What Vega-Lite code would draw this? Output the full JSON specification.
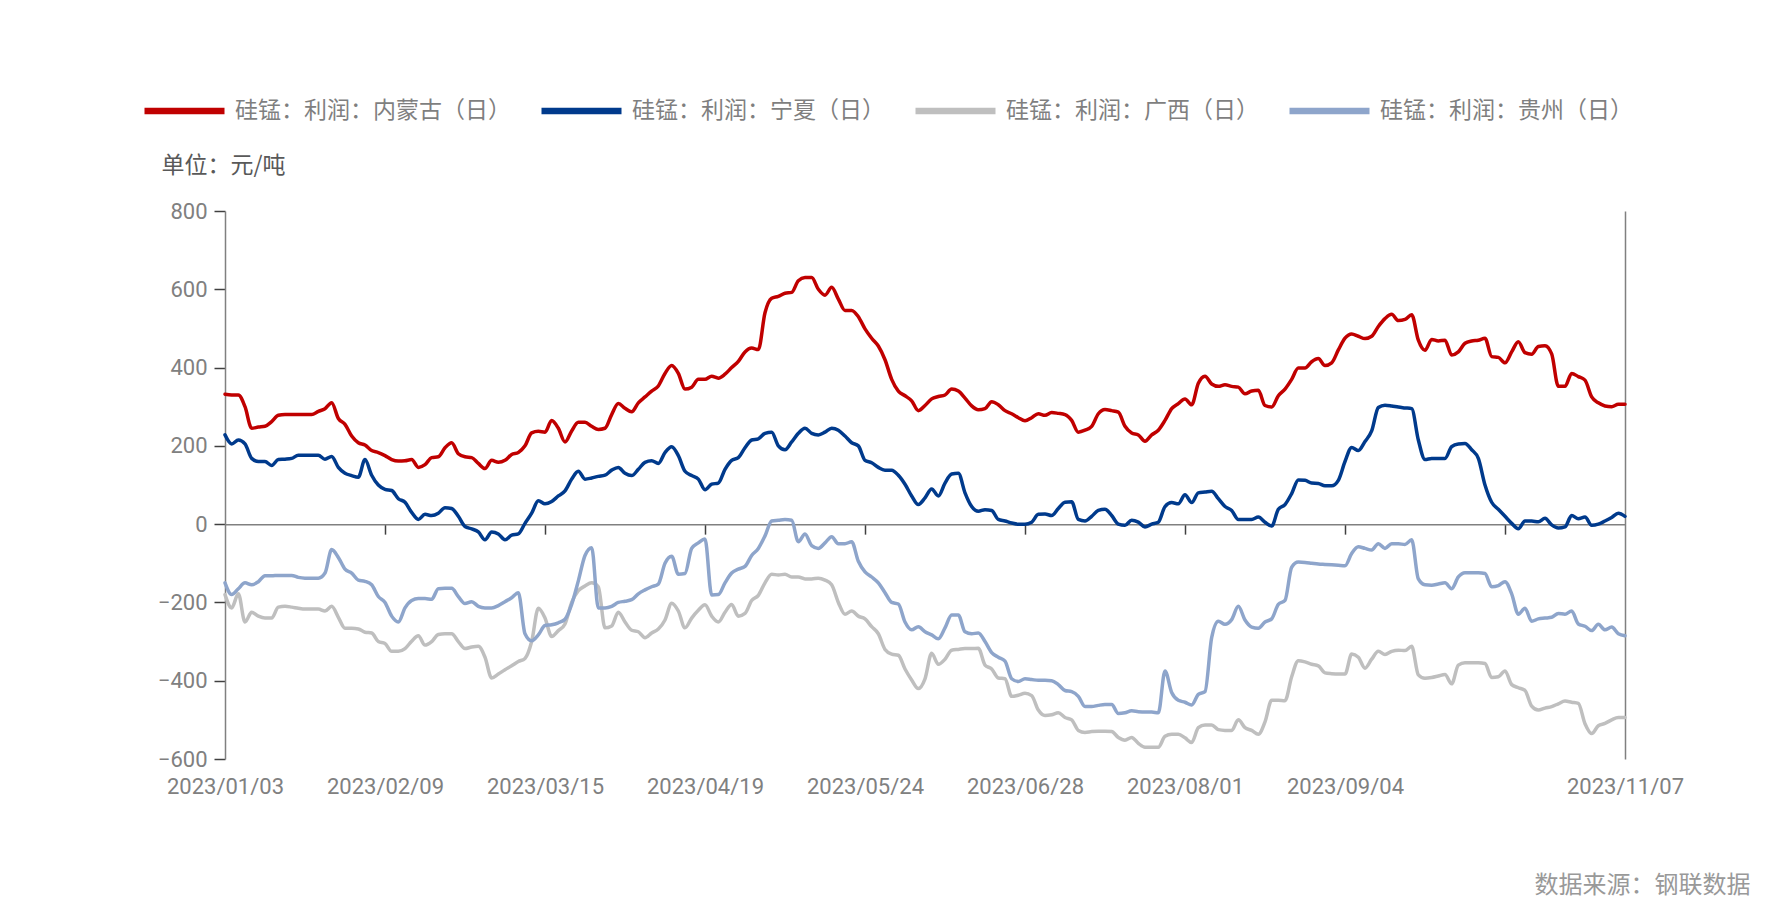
{
  "$schema": "https://vega.github.io/schema/vega-lite/v6.json",
  "description": "Silicomanganese profit by region, daily, 2023",
  "width": 1400,
  "height": 548,
  "padding": {"left": 225, "top": 211, "right": 163, "bottom": 159},
  "autosize": {"type": "none"},
  "background": "white",
  "config": {"view": {"stroke": null}, "axis": {"grid": false}},
  "data": {
    "values": [
      {"d": "2023/01/03", "nm": 332, "nx": 228, "gx": -180, "gz": -150},
      {"d": "2023/01/04", "nm": 330, "nx": 205, "gx": -214, "gz": -180},
      {"d": "2023/01/05", "nm": 330, "nx": 215, "gx": -178, "gz": -165},
      {"d": "2023/01/06", "nm": 300, "nx": 205, "gx": -250, "gz": -150},
      {"d": "2023/01/09", "nm": 245, "nx": 168, "gx": -225, "gz": -155},
      {"d": "2023/01/10", "nm": 248, "nx": 160, "gx": -235, "gz": -147},
      {"d": "2023/01/11", "nm": 250, "nx": 160, "gx": -240, "gz": -132},
      {"d": "2023/01/12", "nm": 262, "nx": 150, "gx": -240, "gz": -132},
      {"d": "2023/01/13", "nm": 278, "nx": 165, "gx": -212, "gz": -131},
      {"d": "2023/01/16", "nm": 280, "nx": 166, "gx": -210, "gz": -131},
      {"d": "2023/01/17", "nm": 280, "nx": 168, "gx": -212, "gz": -131},
      {"d": "2023/01/18", "nm": 280, "nx": 176, "gx": -215, "gz": -136},
      {"d": "2023/01/19", "nm": 280, "nx": 176, "gx": -217, "gz": -138},
      {"d": "2023/01/20", "nm": 280, "nx": 176, "gx": -217, "gz": -138},
      {"d": "2023/01/28", "nm": 288, "nx": 176, "gx": -217, "gz": -138},
      {"d": "2023/01/29", "nm": 295, "nx": 166, "gx": -222, "gz": -125},
      {"d": "2023/01/30", "nm": 310, "nx": 173, "gx": -210, "gz": -65},
      {"d": "2023/01/31", "nm": 270, "nx": 145, "gx": -238, "gz": -85},
      {"d": "2023/02/01", "nm": 255, "nx": 130, "gx": -266, "gz": -115},
      {"d": "2023/02/02", "nm": 225, "nx": 124, "gx": -266, "gz": -125},
      {"d": "2023/02/03", "nm": 208, "nx": 120, "gx": -268, "gz": -143},
      {"d": "2023/02/06", "nm": 202, "nx": 165, "gx": -276, "gz": -146},
      {"d": "2023/02/07", "nm": 188, "nx": 125, "gx": -278, "gz": -155},
      {"d": "2023/02/08", "nm": 183, "nx": 100, "gx": -300, "gz": -185},
      {"d": "2023/02/09", "nm": 175, "nx": 89, "gx": -305, "gz": -200},
      {"d": "2023/02/10", "nm": 165, "nx": 86, "gx": -325, "gz": -235},
      {"d": "2023/02/13", "nm": 161, "nx": 65, "gx": -325, "gz": -250},
      {"d": "2023/02/14", "nm": 162, "nx": 56, "gx": -318, "gz": -214},
      {"d": "2023/02/15", "nm": 165, "nx": 30, "gx": -299, "gz": -195},
      {"d": "2023/02/16", "nm": 145, "nx": 12, "gx": -285, "gz": -190},
      {"d": "2023/02/17", "nm": 152, "nx": 25, "gx": -309, "gz": -190},
      {"d": "2023/02/20", "nm": 170, "nx": 22, "gx": -300, "gz": -192},
      {"d": "2023/02/21", "nm": 172, "nx": 28, "gx": -282, "gz": -165},
      {"d": "2023/02/22", "nm": 195, "nx": 42, "gx": -280, "gz": -164},
      {"d": "2023/02/23", "nm": 208, "nx": 40, "gx": -280, "gz": -164},
      {"d": "2023/02/24", "nm": 180, "nx": 20, "gx": -300, "gz": -185},
      {"d": "2023/02/27", "nm": 172, "nx": -6, "gx": -318, "gz": -203},
      {"d": "2023/02/28", "nm": 170, "nx": -12, "gx": -314, "gz": -198},
      {"d": "2023/03/01", "nm": 155, "nx": -20, "gx": -312, "gz": -210},
      {"d": "2023/03/02", "nm": 142, "nx": -40, "gx": -340, "gz": -214},
      {"d": "2023/03/03", "nm": 163, "nx": -20, "gx": -393, "gz": -214},
      {"d": "2023/03/06", "nm": 158, "nx": -25, "gx": -383, "gz": -208},
      {"d": "2023/03/07", "nm": 163, "nx": -40, "gx": -372, "gz": -198},
      {"d": "2023/03/08", "nm": 178, "nx": -28, "gx": -362, "gz": -188},
      {"d": "2023/03/09", "nm": 183, "nx": -25, "gx": -351, "gz": -175},
      {"d": "2023/03/10", "nm": 200, "nx": 2, "gx": -343, "gz": -280},
      {"d": "2023/03/13", "nm": 233, "nx": 28, "gx": -300, "gz": -298},
      {"d": "2023/03/14", "nm": 237, "nx": 60, "gx": -215, "gz": -283},
      {"d": "2023/03/15", "nm": 235, "nx": 52, "gx": -240, "gz": -259},
      {"d": "2023/03/16", "nm": 265, "nx": 58, "gx": -287, "gz": -257},
      {"d": "2023/03/17", "nm": 245, "nx": 72, "gx": -272, "gz": -252},
      {"d": "2023/03/20", "nm": 210, "nx": 85, "gx": -255, "gz": -243},
      {"d": "2023/03/21", "nm": 238, "nx": 115, "gx": -200, "gz": -205},
      {"d": "2023/03/22", "nm": 260, "nx": 135, "gx": -170, "gz": -145},
      {"d": "2023/03/23", "nm": 260, "nx": 115, "gx": -158, "gz": -80},
      {"d": "2023/03/24", "nm": 250, "nx": 118, "gx": -150, "gz": -60},
      {"d": "2023/03/27", "nm": 242, "nx": 122, "gx": -160, "gz": -214},
      {"d": "2023/03/28", "nm": 245, "nx": 125, "gx": -265, "gz": -214},
      {"d": "2023/03/29", "nm": 280, "nx": 138, "gx": -260, "gz": -210},
      {"d": "2023/03/30", "nm": 308, "nx": 145, "gx": -225, "gz": -200},
      {"d": "2023/03/31", "nm": 296, "nx": 130, "gx": -250, "gz": -197},
      {"d": "2023/04/03", "nm": 287, "nx": 124, "gx": -271, "gz": -193},
      {"d": "2023/04/04", "nm": 310, "nx": 140, "gx": -275, "gz": -178},
      {"d": "2023/04/06", "nm": 325, "nx": 158, "gx": -290, "gz": -168},
      {"d": "2023/04/07", "nm": 340, "nx": 162, "gx": -278, "gz": -160},
      {"d": "2023/04/10", "nm": 353, "nx": 155, "gx": -268, "gz": -153},
      {"d": "2023/04/11", "nm": 385, "nx": 183, "gx": -245, "gz": -100},
      {"d": "2023/04/12", "nm": 405, "nx": 198, "gx": -202, "gz": -82},
      {"d": "2023/04/13", "nm": 385, "nx": 175, "gx": -222, "gz": -128},
      {"d": "2023/04/14", "nm": 345, "nx": 135, "gx": -265, "gz": -126},
      {"d": "2023/04/17", "nm": 350, "nx": 124, "gx": -240, "gz": -62},
      {"d": "2023/04/18", "nm": 370, "nx": 115, "gx": -220, "gz": -48},
      {"d": "2023/04/19", "nm": 370, "nx": 88, "gx": -206, "gz": -38},
      {"d": "2023/04/20", "nm": 378, "nx": 102, "gx": -235, "gz": -181},
      {"d": "2023/04/21", "nm": 373, "nx": 105, "gx": -250, "gz": -180},
      {"d": "2023/04/23", "nm": 383, "nx": 140, "gx": -225, "gz": -150},
      {"d": "2023/04/24", "nm": 400, "nx": 163, "gx": -205, "gz": -125},
      {"d": "2023/04/25", "nm": 416, "nx": 170, "gx": -235, "gz": -115},
      {"d": "2023/04/26", "nm": 440, "nx": 195, "gx": -228, "gz": -108},
      {"d": "2023/04/27", "nm": 450, "nx": 215, "gx": -195, "gz": -80},
      {"d": "2023/04/28", "nm": 446, "nx": 218, "gx": -182, "gz": -62},
      {"d": "2023/05/04", "nm": 540, "nx": 232, "gx": -150, "gz": -30},
      {"d": "2023/05/05", "nm": 577, "nx": 235, "gx": -128, "gz": 8},
      {"d": "2023/05/06", "nm": 582, "nx": 200, "gx": -130, "gz": 10},
      {"d": "2023/05/08", "nm": 590, "nx": 190, "gx": -128, "gz": 12},
      {"d": "2023/05/09", "nm": 592, "nx": 210, "gx": -135, "gz": 10},
      {"d": "2023/05/10", "nm": 622, "nx": 232, "gx": -135, "gz": -45},
      {"d": "2023/05/11", "nm": 630, "nx": 245, "gx": -140, "gz": -25},
      {"d": "2023/05/12", "nm": 630, "nx": 232, "gx": -140, "gz": -55},
      {"d": "2023/05/15", "nm": 600, "nx": 228, "gx": -138, "gz": -62},
      {"d": "2023/05/16", "nm": 585, "nx": 235, "gx": -143, "gz": -48},
      {"d": "2023/05/17", "nm": 605, "nx": 245, "gx": -155, "gz": -32},
      {"d": "2023/05/18", "nm": 575, "nx": 240, "gx": -200, "gz": -50},
      {"d": "2023/05/19", "nm": 546, "nx": 225, "gx": -230, "gz": -50},
      {"d": "2023/05/22", "nm": 546, "nx": 208, "gx": -222, "gz": -45},
      {"d": "2023/05/23", "nm": 530, "nx": 200, "gx": -235, "gz": -95},
      {"d": "2023/05/24", "nm": 499, "nx": 163, "gx": -242, "gz": -122},
      {"d": "2023/05/25", "nm": 475, "nx": 157, "gx": -262, "gz": -135},
      {"d": "2023/05/26", "nm": 455, "nx": 145, "gx": -280, "gz": -150},
      {"d": "2023/05/29", "nm": 420, "nx": 138, "gx": -320, "gz": -175},
      {"d": "2023/05/30", "nm": 370, "nx": 138, "gx": -332, "gz": -200},
      {"d": "2023/05/31", "nm": 340, "nx": 125, "gx": -335, "gz": -204},
      {"d": "2023/06/01", "nm": 328, "nx": 102, "gx": -370, "gz": -250},
      {"d": "2023/06/02", "nm": 315, "nx": 72, "gx": -398, "gz": -270},
      {"d": "2023/06/05", "nm": 290, "nx": 50, "gx": -420, "gz": -262},
      {"d": "2023/06/06", "nm": 303, "nx": 67, "gx": -395, "gz": -275},
      {"d": "2023/06/07", "nm": 320, "nx": 90, "gx": -330, "gz": -283},
      {"d": "2023/06/08", "nm": 326, "nx": 72, "gx": -358, "gz": -293},
      {"d": "2023/06/09", "nm": 330, "nx": 105, "gx": -345, "gz": -265},
      {"d": "2023/06/12", "nm": 345, "nx": 128, "gx": -322, "gz": -232},
      {"d": "2023/06/13", "nm": 340, "nx": 130, "gx": -320, "gz": -232},
      {"d": "2023/06/14", "nm": 322, "nx": 80, "gx": -318, "gz": -275},
      {"d": "2023/06/15", "nm": 302, "nx": 45, "gx": -318, "gz": -280},
      {"d": "2023/06/16", "nm": 292, "nx": 33, "gx": -317, "gz": -278},
      {"d": "2023/06/19", "nm": 295, "nx": 37, "gx": -360, "gz": -300},
      {"d": "2023/06/20", "nm": 313, "nx": 35, "gx": -370, "gz": -328},
      {"d": "2023/06/21", "nm": 305, "nx": 12, "gx": -393, "gz": -340},
      {"d": "2023/06/25", "nm": 290, "nx": 8, "gx": -395, "gz": -350},
      {"d": "2023/06/26", "nm": 282, "nx": 3, "gx": -440, "gz": -395},
      {"d": "2023/06/27", "nm": 272, "nx": 0, "gx": -437, "gz": -402},
      {"d": "2023/06/28", "nm": 264, "nx": 0, "gx": -432, "gz": -395},
      {"d": "2023/06/29", "nm": 272, "nx": 5, "gx": -438, "gz": -397},
      {"d": "2023/06/30", "nm": 282, "nx": 25, "gx": -475, "gz": -399},
      {"d": "2023/07/03", "nm": 278, "nx": 26, "gx": -489, "gz": -399},
      {"d": "2023/07/04", "nm": 285, "nx": 22, "gx": -487, "gz": -400},
      {"d": "2023/07/05", "nm": 283, "nx": 40, "gx": -482, "gz": -410},
      {"d": "2023/07/06", "nm": 280, "nx": 56, "gx": -494, "gz": -425},
      {"d": "2023/07/07", "nm": 265, "nx": 57, "gx": -500, "gz": -428},
      {"d": "2023/07/10", "nm": 235, "nx": 12, "gx": -527, "gz": -440},
      {"d": "2023/07/11", "nm": 240, "nx": 8, "gx": -532, "gz": -466},
      {"d": "2023/07/12", "nm": 250, "nx": 20, "gx": -530, "gz": -466},
      {"d": "2023/07/13", "nm": 282, "nx": 35, "gx": -529, "gz": -463},
      {"d": "2023/07/14", "nm": 293, "nx": 38, "gx": -529, "gz": -461},
      {"d": "2023/07/17", "nm": 290, "nx": 22, "gx": -530, "gz": -461},
      {"d": "2023/07/18", "nm": 286, "nx": 0, "gx": -545, "gz": -484},
      {"d": "2023/07/19", "nm": 250, "nx": -3, "gx": -552, "gz": -482},
      {"d": "2023/07/20", "nm": 233, "nx": 10, "gx": -545, "gz": -477},
      {"d": "2023/07/21", "nm": 228, "nx": 5, "gx": -560, "gz": -479},
      {"d": "2023/07/24", "nm": 212, "nx": -7, "gx": -570, "gz": -480},
      {"d": "2023/07/25", "nm": 228, "nx": 0, "gx": -570, "gz": -480},
      {"d": "2023/07/26", "nm": 240, "nx": 5, "gx": -570, "gz": -482},
      {"d": "2023/07/27", "nm": 265, "nx": 45, "gx": -542, "gz": -375},
      {"d": "2023/07/28", "nm": 295, "nx": 55, "gx": -537, "gz": -430},
      {"d": "2023/07/31", "nm": 308, "nx": 52, "gx": -537, "gz": -450},
      {"d": "2023/08/01", "nm": 320, "nx": 75, "gx": -546, "gz": -455},
      {"d": "2023/08/02", "nm": 305, "nx": 55, "gx": -558, "gz": -462},
      {"d": "2023/08/03", "nm": 360, "nx": 80, "gx": -520, "gz": -435},
      {"d": "2023/08/04", "nm": 378, "nx": 82, "gx": -513, "gz": -428},
      {"d": "2023/08/07", "nm": 358, "nx": 84, "gx": -513, "gz": -290},
      {"d": "2023/08/08", "nm": 352, "nx": 65, "gx": -525, "gz": -248},
      {"d": "2023/08/09", "nm": 356, "nx": 45, "gx": -527, "gz": -256},
      {"d": "2023/08/10", "nm": 352, "nx": 35, "gx": -527, "gz": -244},
      {"d": "2023/08/11", "nm": 350, "nx": 12, "gx": -500, "gz": -210},
      {"d": "2023/08/14", "nm": 333, "nx": 12, "gx": -520, "gz": -245},
      {"d": "2023/08/15", "nm": 340, "nx": 12, "gx": -527, "gz": -263},
      {"d": "2023/08/16", "nm": 342, "nx": 18, "gx": -537, "gz": -266},
      {"d": "2023/08/17", "nm": 303, "nx": 5, "gx": -505, "gz": -250},
      {"d": "2023/08/18", "nm": 299, "nx": -5, "gx": -450, "gz": -242},
      {"d": "2023/08/21", "nm": 328, "nx": 38, "gx": -450, "gz": -205},
      {"d": "2023/08/22", "nm": 345, "nx": 50, "gx": -451, "gz": -195},
      {"d": "2023/08/23", "nm": 370, "nx": 78, "gx": -390, "gz": -110},
      {"d": "2023/08/24", "nm": 399, "nx": 113, "gx": -349, "gz": -97},
      {"d": "2023/08/25", "nm": 399, "nx": 112, "gx": -352, "gz": -98},
      {"d": "2023/08/28", "nm": 415, "nx": 105, "gx": -358, "gz": -100},
      {"d": "2023/08/29", "nm": 423, "nx": 104, "gx": -362, "gz": -102},
      {"d": "2023/08/30", "nm": 405, "nx": 98, "gx": -380, "gz": -103},
      {"d": "2023/08/31", "nm": 412, "nx": 98, "gx": -382, "gz": -104},
      {"d": "2023/09/01", "nm": 445, "nx": 112, "gx": -383, "gz": -105},
      {"d": "2023/09/04", "nm": 475, "nx": 160, "gx": -383, "gz": -106},
      {"d": "2023/09/05", "nm": 486, "nx": 196, "gx": -332, "gz": -75},
      {"d": "2023/09/06", "nm": 480, "nx": 188, "gx": -340, "gz": -58},
      {"d": "2023/09/07", "nm": 474, "nx": 211, "gx": -368, "gz": -62},
      {"d": "2023/09/08", "nm": 480, "nx": 238, "gx": -345, "gz": -66},
      {"d": "2023/09/11", "nm": 505, "nx": 298, "gx": -325, "gz": -50},
      {"d": "2023/09/12", "nm": 525, "nx": 304, "gx": -333, "gz": -62},
      {"d": "2023/09/13", "nm": 536, "nx": 302, "gx": -325, "gz": -50},
      {"d": "2023/09/14", "nm": 520, "nx": 299, "gx": -322, "gz": -50},
      {"d": "2023/09/15", "nm": 523, "nx": 297, "gx": -323, "gz": -52},
      {"d": "2023/09/18", "nm": 535, "nx": 295, "gx": -312, "gz": -40},
      {"d": "2023/09/19", "nm": 470, "nx": 215, "gx": -385, "gz": -140},
      {"d": "2023/09/20", "nm": 444, "nx": 165, "gx": -394, "gz": -155},
      {"d": "2023/09/21", "nm": 472, "nx": 168, "gx": -392, "gz": -156},
      {"d": "2023/09/22", "nm": 468, "nx": 168, "gx": -388, "gz": -153},
      {"d": "2023/09/25", "nm": 470, "nx": 168, "gx": -384, "gz": -150},
      {"d": "2023/09/26", "nm": 432, "nx": 198, "gx": -408, "gz": -165},
      {"d": "2023/09/27", "nm": 440, "nx": 205, "gx": -360, "gz": -135},
      {"d": "2023/09/28", "nm": 462, "nx": 206, "gx": -354, "gz": -124},
      {"d": "2023/10/07", "nm": 468, "nx": 190, "gx": -354, "gz": -124},
      {"d": "2023/10/08", "nm": 470, "nx": 168, "gx": -354, "gz": -124},
      {"d": "2023/10/09", "nm": 475, "nx": 100, "gx": -356, "gz": -126},
      {"d": "2023/10/10", "nm": 428, "nx": 56, "gx": -392, "gz": -160},
      {"d": "2023/10/11", "nm": 426, "nx": 38, "gx": -390, "gz": -157},
      {"d": "2023/10/12", "nm": 412, "nx": 20, "gx": -375, "gz": -147},
      {"d": "2023/10/13", "nm": 440, "nx": 2, "gx": -410, "gz": -178},
      {"d": "2023/10/16", "nm": 466, "nx": -12, "gx": -418, "gz": -230},
      {"d": "2023/10/17", "nm": 438, "nx": 8, "gx": -425, "gz": -215},
      {"d": "2023/10/18", "nm": 434, "nx": 8, "gx": -465, "gz": -248},
      {"d": "2023/10/19", "nm": 454, "nx": 6, "gx": -475, "gz": -242},
      {"d": "2023/10/20", "nm": 456, "nx": 15, "gx": -470, "gz": -240},
      {"d": "2023/10/23", "nm": 435, "nx": -2, "gx": -466, "gz": -238},
      {"d": "2023/10/24", "nm": 352, "nx": -10, "gx": -459, "gz": -228},
      {"d": "2023/10/25", "nm": 352, "nx": -7, "gx": -452, "gz": -230},
      {"d": "2023/10/26", "nm": 385, "nx": 22, "gx": -455, "gz": -222},
      {"d": "2023/10/27", "nm": 377, "nx": 14, "gx": -458, "gz": -255},
      {"d": "2023/10/30", "nm": 368, "nx": 18, "gx": -510, "gz": -261},
      {"d": "2023/10/31", "nm": 325, "nx": -3, "gx": -535, "gz": -272},
      {"d": "2023/11/01", "nm": 310, "nx": 0, "gx": -515, "gz": -256},
      {"d": "2023/11/02", "nm": 302, "nx": 8, "gx": -509, "gz": -270},
      {"d": "2023/11/03", "nm": 300, "nx": 17, "gx": -500, "gz": -263},
      {"d": "2023/11/06", "nm": 306, "nx": 28, "gx": -494, "gz": -280},
      {"d": "2023/11/07", "nm": 306, "nx": 20, "gx": -494, "gz": -285}
    ]
  },
  "transform": [{"fold": ["nm", "nx", "gx", "gz"], "as": ["s", "v"]}],
  "layer": [
    {
      "mark": {"type": "line", "interpolate": "monotone", "strokeWidth": 3.5, "strokeCap": "round"},
      "encoding": {
        "x": {
          "field": "d",
          "type": "ordinal",
          "scale": {"type": "point", "padding": 0},
          "axis": {
            "orient": "bottom",
            "offset": -234.86,
            "values": ["2023/02/09", "2023/03/15", "2023/04/19", "2023/05/24", "2023/06/28", "2023/08/01", "2023/09/04", "2023/10/12"],
            "labels": false,
            "ticks": true,
            "tickSize": 10,
            "tickColor": "#404040",
            "tickWidth": 1.5,
            "domain": true,
            "domainColor": "#808080",
            "domainWidth": 1.5,
            "grid": false,
            "title": null
          }
        },
        "y": {
          "field": "v",
          "type": "quantitative",
          "scale": {"domain": [-600, 800], "nice": false, "zero": false},
          "axis": {
            "orient": "left",
            "values": [-600, -400, -200, 0, 200, 400, 600, 800],
            "labelFont": "Roboto",
            "labelFontSize": 22,
            "labelColor": "#808080",
            "labelPadding": 7,
            "tickSize": 11,
            "tickColor": "#404040",
            "tickWidth": 1.5,
            "domainColor": "#808080",
            "domainWidth": 1.5,
            "grid": false,
            "title": "单位：元/吨",
            "titleFont": "Noto Sans CJK SC",
            "titleFontSize": 23,
            "titleFontWeight": "normal",
            "titleColor": "#595959",
            "titleAngle": 0,
            "titleAlign": "left",
            "titleBaseline": "middle",
            "titleX": -64,
            "titleY": -46
          }
        },
        "color": {
          "field": "s",
          "type": "nominal",
          "scale": {"domain": ["nm", "nx", "gx", "gz"], "range": ["#C00000", "#003A8C", "#BFBFBF", "#8EA5CB"]},
          "legend": {
            "orient": "none",
            "legendX": -84,
            "legendY": -143.5,
            "direction": "horizontal",
            "columns": 4,
            "gridAlign": "none",
            "title": null,
            "padding": 0,
            "symbolType": "stroke",
            "symbolSize": 6400,
            "symbolStrokeWidth": 6.5,
            "labelFont": "Noto Sans CJK SC",
            "labelFontSize": 23,
            "labelColor": "#7f7f7f",
            "labelOffset": 7,
            "labelLimit": 400,
            "columnPadding": 17,
            "labelExpr": "datum.value == 'nm' ? '硅锰：利润：内蒙古（日）' : datum.value == 'nx' ? '硅锰：利润：宁夏（日）' : datum.value == 'gx' ? '硅锰：利润：广西（日）' : '硅锰：利润：贵州（日）'"
          }
        }
      }
    },
    {
      "mark": {"type": "point", "opacity": 0},
      "encoding": {
        "x": {
          "field": "d",
          "type": "ordinal",
          "axis": {
            "orient": "bottom",
            "values": ["2023/01/03", "2023/02/09", "2023/03/15", "2023/04/19", "2023/05/24", "2023/06/28", "2023/08/01", "2023/09/04", "2023/11/07"],
            "domain": false,
            "ticks": false,
            "labelFont": "Roboto",
            "labelFontSize": 22,
            "labelColor": "#808080",
            "labelPadding": 17,
            "labelAngle": 0,
            "labelAlign": "center",
            "labelOverlap": false,
            "grid": false,
            "title": "数据来源：钢联数据",
            "titleFont": "Noto Sans CJK SC",
            "titleFontSize": 24,
            "titleFontWeight": "normal",
            "titleColor": "#999999",
            "titleAlign": "right",
            "titleBaseline": "middle",
            "titleX": 1525,
            "titleY": 126
          }
        },
        "y": {
          "field": "v",
          "type": "quantitative",
          "axis": {
            "orient": "right",
            "labels": false,
            "ticks": false,
            "domain": true,
            "domainColor": "#808080",
            "domainWidth": 1.5,
            "grid": false,
            "title": null
          }
        }
      }
    }
  ],
  "resolve": {"axis": {"x": "independent", "y": "independent"}}
}
